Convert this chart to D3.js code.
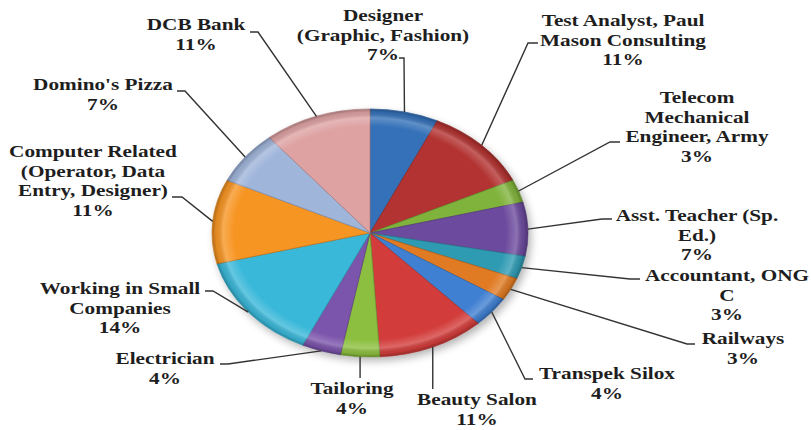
<!DOCTYPE html>
<html>
<head>
<meta charset="utf-8">
<script src="https://cdn.jsdelivr.net/npm/d3@7"></script>
<style>
  body { margin: 0; background: #fff; }
</style>
</head>
<body>
<script>
// Data
const categories = [
  ['Designer', '(Graphic, Fashion)'],
  ['Test Analyst, Paul', 'Mason Consulting'],
  ['Telecom', 'Mechanical', 'Engineer, Army'],
  ['Asst. Teacher (Sp.', 'Ed.)'],
  ['Accountant, ONG', 'C'],
  ['Railways'],
  ['Transpek Silox'],
  ['Beauty Salon'],
  ['Tailoring'],
  ['Electrician'],
  ['Working in Small', 'Companies'],
  ['Computer Related', '(Operator, Data', 'Entry, Designer)'],
  ["Domino's Pizza"],
  ['DCB Bank']
]
const values = [7, 11, 3, 7, 3, 3, 4, 11, 4, 4, 14, 11, 7, 11]
const colors = ['#3471b8', '#b23331', '#80b33c', '#6c4a9d', '#2f9bb3', '#e07b23', '#4080d2',
  '#d23d3b', '#8cbf3f', '#7b54ab', '#3ab8d9', '#f79523', '#9fb5da', '#dea2a3']

// Label layout: text centre x, first baseline y, elbow point, text-side end point
const labelLayout = [
  { x: 383, y: 21, elbow: [404, 58], end: [399, 58] },
  { x: 623, y: 26, elbow: [528, 43], end: [538, 43] },
  { x: 697, y: 103, elbow: [610, 142], end: [620, 142] },
  { x: 697, y: 221, elbow: [602, 219], end: [612, 219] },
  { x: 727, y: 281, elbow: [630, 279], end: [640, 279] },
  { x: 743, y: 344, elbow: [687, 344], end: [695, 344] },
  { x: 607, y: 379, elbow: [525, 379], end: [533, 379] },
  { x: 477, y: 405, vertical: 389 },
  { x: 352, y: 394, vertical: 378 },
  { x: 165, y: 364, elbow: [228, 364], end: [220, 364] },
  { x: 120, y: 294, elbow: [213, 291], end: [205, 291] },
  { x: 93, y: 157, elbow: [182, 197], end: [172, 197] },
  { x: 103, y: 90, elbow: [185, 91], end: [177, 91] },
  { x: 196, y: 30, elbow: [258, 32], end: [250, 32] }
]

const width = 811
const height = 430
const cx = 370, cy = 233, rx = 158, ry = 124

const svg = d3.select('body').append('svg')
    .attr('width', width)
    .attr('height', height)

const defs = svg.append('defs')
defs.append('filter').attr('id', 'blur')
    .attr('x', '-20%').attr('y', '-20%').attr('width', '140%').attr('height', '140%')
    .append('feGaussianBlur').attr('stdDeviation', 4)

const bevel = defs.append('radialGradient').attr('id', 'bevel')
    .attr('cx', 0).attr('cy', 0).attr('r', rx).attr('gradientUnits', 'userSpaceOnUse')
const stops = [[0, '#fff', 0], [0.86, '#fff', 0], [0.93, '#fff', 0.22], [0.975, '#000', 0.08], [1, '#000', 0.3]]
stops.forEach(s => bevel.append('stop')
    .attr('offset', s[0]).attr('stop-color', s[1]).attr('stop-opacity', s[2]))

// Shadow
svg.append('ellipse')
    .attr('cx', cx + 3).attr('cy', cy + 4)
    .attr('rx', rx).attr('ry', ry)
    .style('fill', '#000').style('opacity', 0.3)
    .attr('filter', 'url(#blur)')

const pie = d3.pie().sort(null).value(d => d)
const arcs = pie(values)
const arc = d3.arc().innerRadius(0).outerRadius(rx)

const g = svg.append('g')
    .attr('transform', `translate(${cx} ${cy}) scale(1 ${ry / rx})`)

g.selectAll('.slice')
    .data(arcs)
    .enter().append('path')
    .attr('class', 'slice')
    .attr('d', arc)
    .style('fill', (d, i) => colors[i])
    .style('stroke', (d, i) => d3.color(colors[i]).darker(0.7))
    .style('stroke-width', 0.8)

g.selectAll('.bevel')
    .data(arcs)
    .enter().append('path')
    .attr('class', 'bevel')
    .attr('d', d3.arc().innerRadius(0).outerRadius(rx - 0.5))
    .style('fill', 'url(#bevel)')

// Leader lines
const edge = a => [cx + rx * Math.sin(a), cy - ry * Math.cos(a)]

svg.selectAll('.leader')
    .data(arcs)
    .enter().append('path')
    .attr('class', 'leader')
    .attr('d', (d, i) => {
      const p = edge((d.startAngle + d.endAngle) / 2)
      const l = labelLayout[i]
      if (l.vertical) return d3.line()([p, [p[0], l.vertical]])
      return d3.line()([p, l.elbow, l.end])
    })
    .style('fill', 'none')
    .style('stroke', '#333')
    .style('stroke-width', 1.4)

// Labels
const labels = svg.selectAll('.label')
    .data(arcs)
    .enter().append('g')
    .attr('class', 'label')
    .attr('transform', (d, i) => `translate(${labelLayout[i].x} ${labelLayout[i].y}) scale(1.25 1)`)

labels.append('text')
    .attr('text-anchor', 'middle')
    .style('font-family', "'Liberation Serif', 'Times New Roman', Times, serif")
    .style('font-weight', 'bold')
    .style('font-size', '17px')
    .style('fill', '#1e1e1e')
    .selectAll('tspan')
    .data((d, i) => categories[i].concat([values[i] + '%']))
    .enter().append('tspan')
    .attr('x', 0)
    .attr('dy', (t, j) => j === 0 ? 0 : 19.6)
    .text(t => t)
</script>
</body>
</html>
